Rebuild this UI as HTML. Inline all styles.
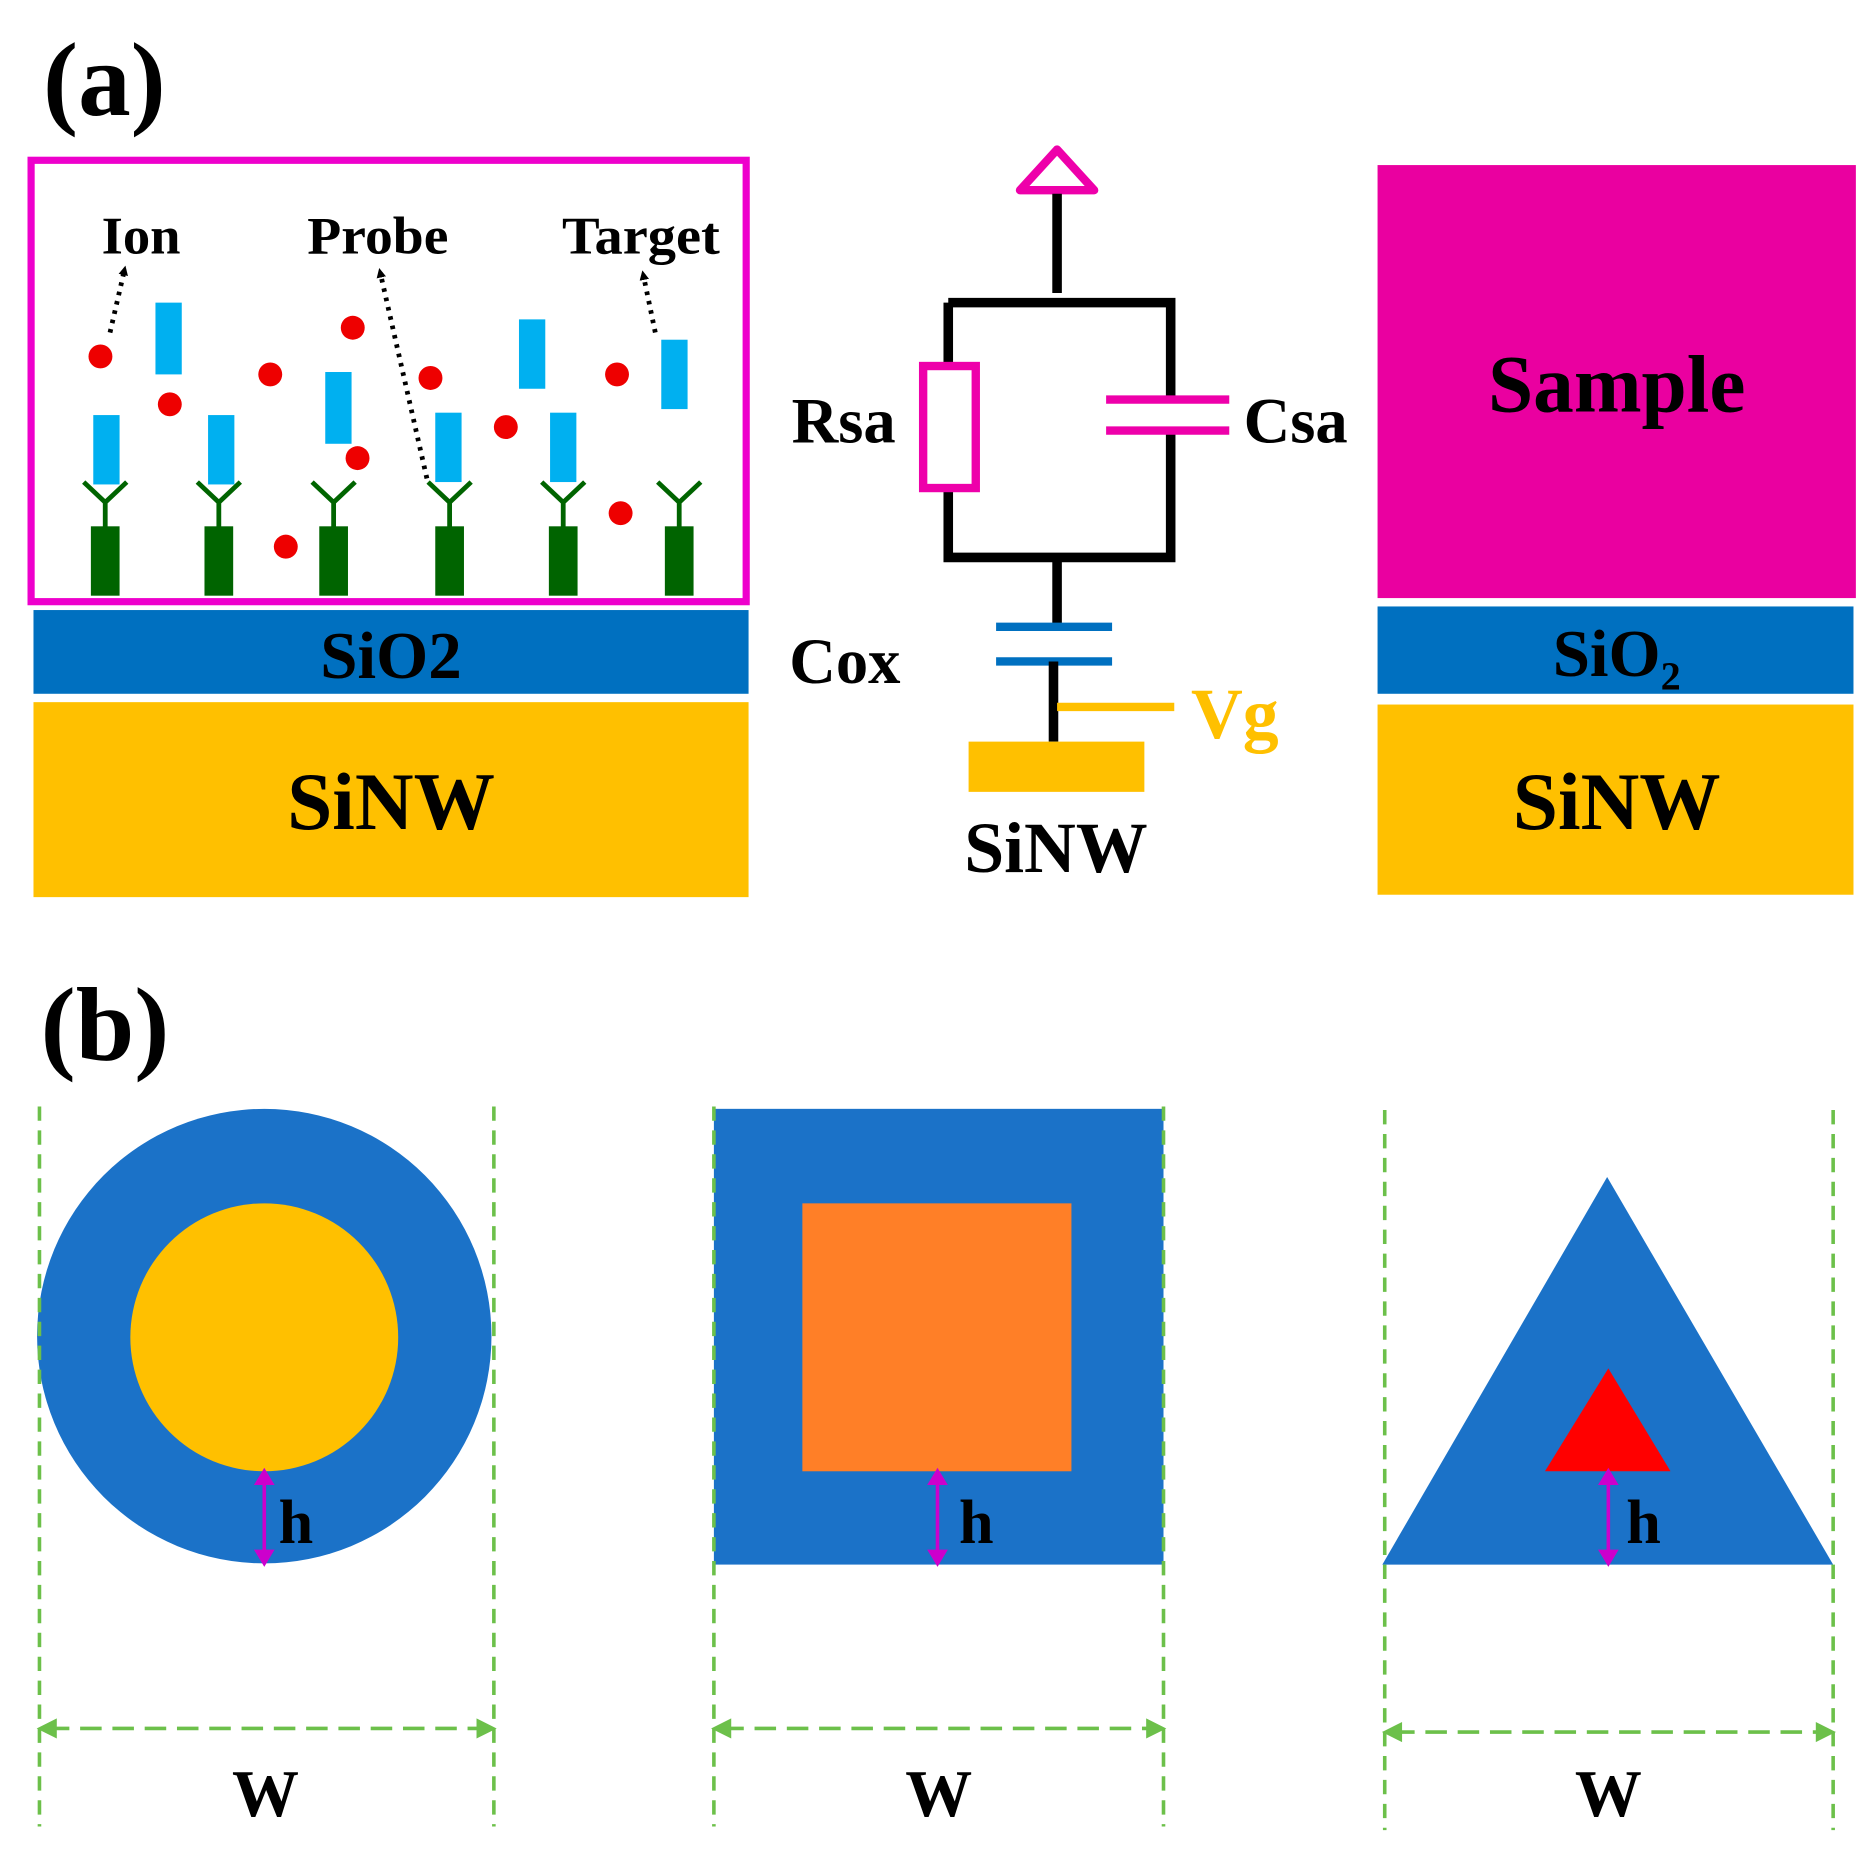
<!DOCTYPE html>
<html><head><meta charset="utf-8"><style>html,body{margin:0;padding:0;background:#fff}svg{display:block}</style></head><body>
<svg width="1875" height="1872" viewBox="0 0 1568 1565" preserveAspectRatio="none" xmlns="http://www.w3.org/2000/svg" font-family="Liberation Serif, serif" font-weight="bold">
<defs>
<marker id="ab" markerWidth="8" markerHeight="8" refX="4" refY="4" orient="auto" markerUnits="userSpaceOnUse"><path d="M0,0 L8,4 L0,8 Z" fill="#000"/></marker>
</defs>
<text x="36" y="96" font-size="88">(a)</text>
<!-- left panel -->
<rect x="26" y="134" width="598" height="369" fill="#fff" stroke="#EE00CC" stroke-width="6"/>
<rect x="28" y="510" width="598" height="70" fill="#0070C0"/>
<text x="327" y="567" font-size="56" text-anchor="middle">SiO2</text>
<rect x="28" y="587" width="598" height="163" fill="#FFC000"/>
<text x="327" y="693" font-size="68" text-anchor="middle">SiNW</text>
<text x="85" y="212" font-size="44" textLength="66" lengthAdjust="spacingAndGlyphs">Ion</text>
<text x="257" y="212" font-size="44" textLength="118" lengthAdjust="spacingAndGlyphs">Probe</text>
<text x="470" y="212" font-size="44" textLength="132" lengthAdjust="spacingAndGlyphs">Target</text>
<g stroke="#000" stroke-width="4" stroke-dasharray="3 5" fill="none">
<line x1="92" y1="278" x2="104" y2="226" marker-end="url(#ab)"/>
<line x1="357" y1="400" x2="318" y2="228" marker-end="url(#ab)"/>
<line x1="548" y1="278" x2="538" y2="230" marker-end="url(#ab)"/>
</g>
<g fill="#EE0000">
<circle cx="84" cy="298" r="10"/><circle cx="142" cy="338" r="10"/><circle cx="226" cy="313" r="10"/><circle cx="295" cy="274" r="10"/><circle cx="299" cy="383" r="10"/><circle cx="360" cy="316" r="10"/><circle cx="423" cy="357" r="10"/><circle cx="516" cy="313" r="10"/><circle cx="519" cy="429" r="10"/><circle cx="239" cy="457" r="10"/>
</g>
<g fill="#00B0F0">
<rect x="130" y="253" width="22" height="60"/><rect x="78" y="347" width="22" height="58"/><rect x="174" y="347" width="22" height="58"/><rect x="272" y="311" width="22" height="60"/><rect x="364" y="345" width="22" height="58"/><rect x="434" y="267" width="22" height="58"/><rect x="460" y="345" width="22" height="58"/><rect x="553" y="284" width="22" height="58"/>
</g>
<g stroke="#006400" stroke-width="4" fill="none">
<path d="M70,403 L88,420 L106,403 M88,420 L88,442"/>
<path d="M165,403 L183,420 L201,403 M183,420 L183,442"/>
<path d="M261,403 L279,420 L297,403 M279,420 L279,442"/>
<path d="M358,403 L376,420 L394,403 M376,420 L376,442"/>
<path d="M453,403 L471,420 L489,403 M471,420 L471,442"/>
<path d="M550,403 L568,420 L586,403 M568,420 L568,442"/>
</g>
<g fill="#006400">
<rect x="76" y="440" width="24" height="58"/><rect x="171" y="440" width="24" height="58"/><rect x="267" y="440" width="24" height="58"/><rect x="364" y="440" width="24" height="58"/><rect x="459" y="440" width="24" height="58"/><rect x="556" y="440" width="24" height="58"/>
</g>
<!-- circuit -->
<path d="M884,125 L853,159 L915,159 Z" fill="#fff" stroke="#EE00AA" stroke-width="7" stroke-linejoin="round"/>
<line x1="884" y1="162" x2="884" y2="245" stroke="#000" stroke-width="8"/>
<path d="M793,253 H979 V334 M979,360 V466 H793 V408 M793,306 V253" fill="none" stroke="#000" stroke-width="8"/>
<line x1="884" y1="466" x2="884" y2="522" stroke="#000" stroke-width="8"/>
<rect x="772" y="306" width="44" height="102" fill="#fff" stroke="#EE00AA" stroke-width="7"/>
<line x1="925" y1="334" x2="1028" y2="334" stroke="#EE00AA" stroke-width="7"/>
<line x1="925" y1="360" x2="1028" y2="360" stroke="#EE00AA" stroke-width="7"/>
<line x1="833" y1="524" x2="930" y2="524" stroke="#0070C0" stroke-width="7"/>
<line x1="833" y1="553" x2="930" y2="553" stroke="#0070C0" stroke-width="7"/>
<line x1="881" y1="553" x2="881" y2="620" stroke="#000" stroke-width="8"/>
<line x1="884" y1="591" x2="982" y2="591" stroke="#FFC000" stroke-width="7"/>
<rect x="810" y="620" width="147" height="42" fill="#FFC000"/>
<text x="883" y="729" font-size="60" text-anchor="middle">SiNW</text>
<text x="662" y="370" font-size="54">Rsa</text>
<text x="1040" y="370" font-size="54">Csa</text>
<text x="660" y="571" font-size="54">Cox</text>
<text x="996" y="617" font-size="60" fill="#FFC000">Vg</text>
<!-- right panel -->
<rect x="1152" y="138" width="400" height="362" fill="#EA00A0"/>
<text x="1352" y="344" font-size="68" text-anchor="middle">Sample</text>
<rect x="1152" y="507" width="398" height="73" fill="#0070C0"/>
<text x="1352" y="565" font-size="56" text-anchor="middle">SiO₂</text>
<rect x="1152" y="589" width="398" height="159" fill="#FFC000"/>
<text x="1352" y="693" font-size="68" text-anchor="middle">SiNW</text>
<!-- (b) -->
<text x="34" y="886" font-size="88">(b)</text>
<circle cx="221" cy="1117" r="190" fill="#1B72C8"/>
<circle cx="221" cy="1118" r="112" fill="#FFC000"/>
<rect x="597" y="927" width="376" height="381" fill="#1B72C8"/>
<rect x="671" y="1006" width="225" height="224" fill="#FF7F27"/>
<path d="M1344,984 L1533,1308 L1156,1308 Z" fill="#1B72C8"/>
<path d="M1345,1144 L1397,1230 L1292,1230 Z" fill="#FF0000"/>
<g stroke="#6CC04A" stroke-width="3" stroke-dasharray="12 8" fill="none">
<line x1="33" y1="925" x2="33" y2="1527"/><line x1="413" y1="925" x2="413" y2="1527"/>
<line x1="597" y1="925" x2="597" y2="1527"/><line x1="973" y1="925" x2="973" y2="1527"/>
<line x1="1158" y1="928" x2="1158" y2="1530"/><line x1="1533" y1="928" x2="1533" y2="1530"/>
</g>
<g stroke="#6CC04A" stroke-width="3" stroke-dasharray="18 9" fill="none">
<line x1="40" y1="1445" x2="406" y2="1445"/>
<line x1="604" y1="1445" x2="966" y2="1445"/>
<line x1="1165" y1="1448" x2="1526" y2="1448"/>
</g>
<g stroke="#6CC04A" stroke-width="3" fill="#6CC04A">
<path d="M34,1445 L46,1439 L46,1451 Z"/><path d="M412,1445 L400,1439 L400,1451 Z"/>
<path d="M598,1445 L610,1439 L610,1451 Z"/><path d="M972,1445 L960,1439 L960,1451 Z"/>
<path d="M1159,1448 L1171,1442 L1171,1454 Z"/><path d="M1532,1448 L1520,1442 L1520,1454 Z"/>
</g>
<text x="222" y="1518" font-size="56" text-anchor="middle">W</text>
<text x="785" y="1518" font-size="56" text-anchor="middle">W</text>
<text x="1345" y="1518" font-size="56" text-anchor="middle">W</text>
<g stroke="#CC00CC" stroke-width="3" fill="#CC00CC">
<line x1="221" y1="1236" x2="221" y2="1301"/><path d="M221,1230 L215,1240 L227,1240 Z M221,1307 L215,1297 L227,1297 Z"/>
<line x1="784" y1="1236" x2="784" y2="1301"/><path d="M784,1230 L778,1240 L790,1240 Z M784,1307 L778,1297 L790,1297 Z"/>
<line x1="1345" y1="1236" x2="1345" y2="1301"/><path d="M1345,1230 L1339,1240 L1351,1240 Z M1345,1307 L1339,1297 L1351,1297 Z"/>
</g>
<text x="233" y="1290" font-size="52">h</text>
<text x="802" y="1290" font-size="52">h</text>
<text x="1360" y="1290" font-size="52">h</text>
</svg>
</body></html>
